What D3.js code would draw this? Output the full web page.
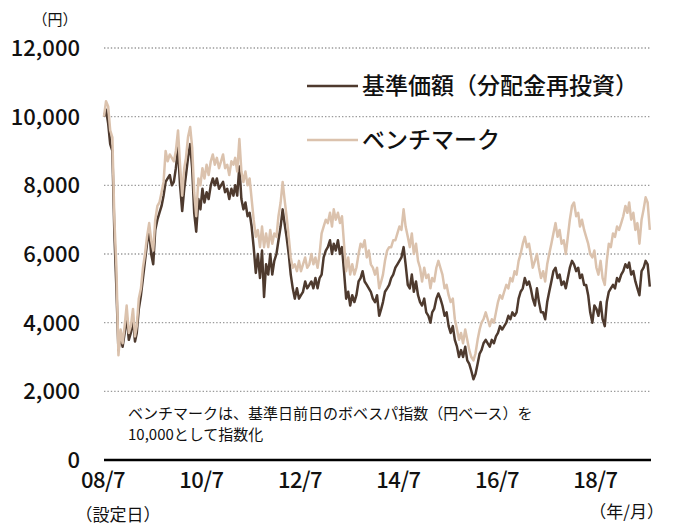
<!DOCTYPE html>
<html><head><meta charset="utf-8">
<script src="https://cdn.jsdelivr.net/npm/d3@7"></script>
<style>
body{margin:0;background:#fff;}
text{font-family:"Noto Sans CJK JP","Noto Sans",sans-serif;fill:#111;}
</style></head>
<body><svg id="c" width="673" height="527"></svg>
<script>
const dates = [
"2008-07-01","2008-07-16","2008-08-01","2008-08-16","2008-09-01","2008-09-16","2008-10-01","2008-10-16","2008-11-01","2008-11-16","2008-12-01","2008-12-16",
"2009-01-01","2009-01-16","2009-02-01","2009-02-16","2009-03-01","2009-03-16","2009-04-01","2009-04-16","2009-05-01","2009-05-16","2009-06-01","2009-06-16","2009-07-01","2009-07-16","2009-08-01","2009-08-16","2009-09-01","2009-09-16","2009-10-01","2009-10-16","2009-11-01","2009-11-16","2009-12-01","2009-12-16",
"2010-01-01","2010-01-16","2010-02-01","2010-02-16","2010-03-01","2010-03-16","2010-04-01","2010-04-16","2010-05-01","2010-05-16","2010-06-01","2010-06-16","2010-07-01","2010-07-16","2010-08-01","2010-08-16","2010-09-01","2010-09-16","2010-10-01","2010-10-16","2010-11-01","2010-11-16","2010-12-01","2010-12-16",
"2011-01-01","2011-01-16","2011-02-01","2011-02-16","2011-03-01","2011-03-16","2011-04-01","2011-04-16","2011-05-01","2011-05-16","2011-06-01","2011-06-16","2011-07-01","2011-07-16","2011-08-01","2011-08-16","2011-09-01","2011-09-16","2011-10-01","2011-10-16","2011-11-01","2011-11-16","2011-12-01","2011-12-16",
"2012-01-01","2012-01-16","2012-02-01","2012-02-16","2012-03-01","2012-03-16","2012-04-01","2012-04-16","2012-05-01","2012-05-16","2012-06-01","2012-06-16","2012-07-01","2012-07-16","2012-08-01","2012-08-16","2012-09-01","2012-09-16","2012-10-01","2012-10-16","2012-11-01","2012-11-16","2012-12-01","2012-12-16",
"2013-01-01","2013-01-16","2013-02-01","2013-02-16","2013-03-01","2013-03-16","2013-04-01","2013-04-16","2013-05-01","2013-05-16","2013-06-01","2013-06-16","2013-07-01","2013-07-16","2013-08-01","2013-08-16","2013-09-01","2013-09-16","2013-10-01","2013-10-16","2013-11-01","2013-11-16","2013-12-01","2013-12-16",
"2014-01-01","2014-01-16","2014-02-01","2014-02-16","2014-03-01","2014-03-16","2014-04-01","2014-04-16","2014-05-01","2014-05-16","2014-06-01","2014-06-16","2014-07-01","2014-07-16","2014-08-01","2014-08-16","2014-09-01","2014-09-16","2014-10-01","2014-10-16","2014-11-01","2014-11-16","2014-12-01","2014-12-16",
"2015-01-01","2015-01-16","2015-02-01","2015-02-16","2015-03-01","2015-03-16","2015-04-01","2015-04-16","2015-05-01","2015-05-16","2015-06-01","2015-06-16","2015-07-01","2015-07-16","2015-08-01","2015-08-16","2015-09-01","2015-09-16","2015-10-01","2015-10-16","2015-11-01","2015-11-16","2015-12-01","2015-12-16",
"2016-01-01","2016-01-16","2016-02-01","2016-02-16","2016-03-01","2016-03-16","2016-04-01","2016-04-16","2016-05-01","2016-05-16","2016-06-01","2016-06-16","2016-07-01","2016-07-16","2016-08-01","2016-08-16","2016-09-01","2016-09-16","2016-10-01","2016-10-16","2016-11-01","2016-11-16","2016-12-01","2016-12-16",
"2017-01-01","2017-01-16","2017-02-01","2017-02-16","2017-03-01","2017-03-16","2017-04-01","2017-04-16","2017-05-01","2017-05-16","2017-06-01","2017-06-16","2017-07-01","2017-07-16","2017-08-01","2017-08-16","2017-09-01","2017-09-16","2017-10-01","2017-10-16","2017-11-01","2017-11-16","2017-12-01","2017-12-16",
"2018-01-01","2018-01-16","2018-02-01","2018-02-16","2018-03-01","2018-03-16","2018-04-01","2018-04-16","2018-05-01","2018-05-16","2018-06-01","2018-06-16","2018-07-01","2018-07-16","2018-08-01","2018-08-16","2018-09-01","2018-09-16","2018-10-01","2018-10-16","2018-11-01","2018-11-16","2018-12-01","2018-12-16",
"2019-01-01","2019-01-16","2019-02-01","2019-02-16","2019-03-01","2019-03-16","2019-04-01","2019-04-16","2019-05-01","2019-05-16","2019-06-01","2019-06-16","2019-07-01","2019-07-16","2019-08-01"
];
const fundNav = [
10000,10200,9800,9200,9000,6600,5000,3200,3600,3300,3700,4200,
3500,3700,4100,3450,3700,4400,4800,5300,5800,6300,6700,6000,5700,6700,7000,7200,7400,7700,8100,8200,8300,8000,8100,8500,
9100,8000,7250,7900,8300,8800,9200,8500,7200,6650,7600,7300,7900,7500,7800,7600,8000,8200,8000,8200,7900,8000,8100,7800,
7900,7600,7900,7700,8000,7700,8550,7600,7300,7500,7100,7200,6800,6200,5450,6000,5300,6100,4750,5700,5400,6000,5400,5800,
6000,6400,6800,7300,6900,6500,6000,5400,5000,4700,5000,4700,4800,4900,5200,5000,5100,5200,5000,5300,5000,5300,5400,5900,
6100,6200,6400,6000,6300,6100,6400,6000,6200,5500,4700,4900,4500,4800,4600,4800,5200,5300,5500,5200,5100,5000,4900,4700,
4600,4800,4200,4400,4600,4900,5000,5100,5300,5400,5600,5700,5800,5900,6200,5700,5100,5000,5400,4900,5200,4800,4600,4500,
4700,4300,4200,4000,4300,4400,4700,4850,4700,4500,4200,4300,3900,3700,3900,3500,3300,3000,3200,3000,3300,2900,2800,2600,
2350,2500,2800,3100,3200,3400,3500,3400,3300,3500,3400,3600,3700,3900,3800,3900,4000,4200,4100,4300,4200,4300,4700,4900,
5000,5300,5100,5200,5000,4700,4500,5000,4600,4300,4300,4100,4600,4900,5200,5500,5600,5300,5400,5100,5200,5000,5300,5600,
5800,5700,5500,5600,5300,5400,5100,5100,4800,4300,4000,4500,4400,4200,4600,4100,3900,4600,4900,5000,5100,5000,5300,5200,
5400,5500,5700,5600,5750,5400,5500,5200,5000,4800,5500,5600,5800,5700,5050
];
const benchmark = [
10000,10450,10300,9600,9400,7000,5600,3050,3800,3400,3900,4500,
3700,3900,4400,3600,3900,4700,5000,5600,6000,6500,6900,6400,6100,7000,7400,7500,7800,8100,9000,8700,8900,8800,8700,9000,
9600,8600,7700,8500,8800,9400,9700,9100,7800,7100,8200,8000,8500,8200,8600,8300,8700,8900,8600,8800,8500,8700,8900,8500,
8600,8300,8700,8600,8800,8400,9350,8400,8100,8400,8000,8200,7600,7000,6500,6700,6200,6800,6200,6600,6200,6700,6300,6600,
6500,7100,7500,8100,7600,7100,6500,5900,5600,5700,5500,5800,5500,5700,5900,5600,5700,6000,5700,5900,5600,6000,6600,6800,
7000,6900,7200,6800,7300,7000,7200,6900,7100,6300,5500,5900,5400,5700,5400,5600,6000,6300,6200,6400,5900,6100,5700,5600,
5400,5600,5000,5200,5400,5800,6100,6200,6200,6400,6400,6600,6800,6700,7300,6800,6500,6200,6600,6000,6300,5800,5600,5200,
5600,5300,5400,5000,5300,5200,5600,5800,5600,5400,5000,5100,4800,4600,4700,4100,3800,3500,3700,3400,3800,3500,3200,3000,
2900,3100,3500,3800,4000,4100,4300,4100,3900,4100,4000,4300,4600,4800,4700,4900,5100,5000,5300,5200,5500,5400,5800,6000,
6300,6500,6200,6300,6000,5600,5800,6000,5600,5300,5500,5200,5700,6000,6300,6600,6900,6500,6700,6300,6400,6000,6500,7000,
7400,7500,7100,7200,6800,7000,6700,6500,6300,6000,5900,6100,5600,5400,5800,5300,5100,5800,6300,6200,6600,6500,6800,6700,
6900,7100,7400,7200,7500,7000,7200,6700,6900,6300,7000,7300,7650,7500,6700
];
const yTicks = [0,2000,4000,6000,8000,10000,12000];
const xTickDates = ["2008-07-01","2010-07-01","2012-07-01","2014-07-01","2016-07-01","2018-07-01"];
const xTickLabels = ["08/7","10/7","12/7","14/7","16/7","18/7"];
const seriesNames = ["基準価額（分配金再投資）","ベンチマーク"];
const colors = {fund:"#4e3a2e", bench:"#dbc2ad"};

const parse = d3.timeParse("%Y-%m-%d");
const svg = d3.select("#c");
const x = d3.scaleTime().domain([parse("2008-07-01"), parse("2019-08-01")]).range([104, 649.8]);
const y = d3.scaleLinear().domain([0,12000]).range([460, 48]);
const xEnd = 651;

svg.append("g").selectAll("line").data(yTicks.filter(v=>v>0)).join("line")
  .attr("x1",104).attr("x2",xEnd).attr("y1",d=>y(d)).attr("y2",d=>y(d))
  .attr("stroke","#9b9b9b").attr("stroke-width",1.3).attr("stroke-dasharray","1.4,2");

const yAxis = d3.axisLeft(y).tickValues(yTicks).tickSize(0).tickPadding(0).tickFormat(d3.format(","));
const gy = svg.append("g").attr("transform","translate(80,0)").call(yAxis);
gy.select(".domain").remove();
gy.selectAll("text").attr("font-size",22).attr("font-family",'"Noto Sans CJK JP"').attr("font-weight",500).attr("fill","#111").attr("dy","0.34em");

const xAxis = d3.axisBottom(x).tickValues(xTickDates.map(parse)).tickSize(0).tickPadding(0)
  .tickFormat((d,i)=>xTickLabels[i]);
const gx = svg.append("g").attr("transform","translate(-1.5,475)").call(xAxis);
gx.select(".domain").remove();
gx.selectAll("text").attr("font-size",22).attr("font-family",'"Noto Sans CJK JP"').attr("font-weight",500).attr("fill","#111").attr("dy","0.6em").attr("letter-spacing","-0.5");

const line = vals => d3.line().x((d,i)=>x(parse(dates[i]))).y(d=>y(d))(vals);
svg.append("path").attr("d",line(fundNav)).attr("fill","none").attr("stroke",colors.fund).attr("stroke-width",2.5).attr("stroke-linejoin","round");
svg.append("path").attr("d",line(benchmark)).attr("fill","none").attr("stroke",colors.bench).attr("stroke-width",2.5).attr("stroke-linejoin","round");

svg.append("line").attr("x1",104).attr("x2",xEnd).attr("y1",y(0)).attr("y2",y(0)).attr("stroke","#000").attr("stroke-width",2.6);

svg.append("text").attr("x",55).attr("y",25).attr("text-anchor","middle").attr("font-size",15).text("（円）");
svg.append("text").attr("x",118).attr("y",521).attr("text-anchor","middle").attr("font-size",17).text("（設定日）");
svg.append("text").attr("x",664).attr("y",518).attr("text-anchor","end").attr("font-size",17).text("（年/月）");

const leg = [{c:colors.fund,y:86},{c:colors.bench,y:140}];
leg.forEach((l,i)=>{
  svg.append("line").attr("x1",307).attr("x2",358).attr("y1",l.y).attr("y2",l.y).attr("stroke",l.c).attr("stroke-width",2.5);
  svg.append("text").attr("x",362).attr("y",l.y).attr("dy","0.36em").attr("font-size",23).attr("font-weight",500).text(seriesNames[i]);
});

svg.append("text").attr("x",128).attr("y",419).attr("font-size",15).text("ベンチマークは、基準日前日のボベスパ指数（円ベース）を");
svg.append("text").attr("x",128).attr("y",440).attr("font-size",15).text("10,000として指数化");
</script></body></html>
